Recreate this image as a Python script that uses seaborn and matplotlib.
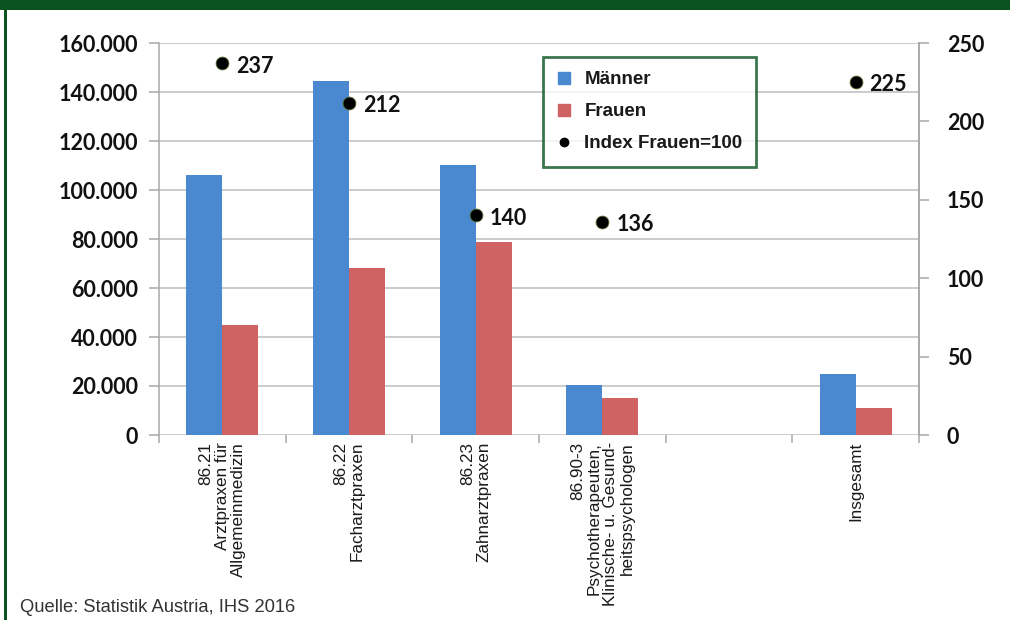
import matplotlib
matplotlib.use("Agg")
import matplotlib.pyplot as plt
from matplotlib.lines import Line2D
from matplotlib.patches import Rectangle
from matplotlib.ticker import FuncFormatter, FixedLocator
import seaborn as sns
import pandas as pd
import numpy as np

# --- data ---------------------------------------------------------------
categories = ["86.21", "86.22", "86.23", "86.90-3", " ", "Insgesamt"]
tick_labels = [
    "86.21\nArztpraxen für\nAllgemeinmedizin",
    "86.22\nFacharztpraxen",
    "86.23\nZahnarztpraxen",
    "86.90-3\nPsychotherapeuten,\nKlinische- u. Gesund-\nheitspsychologen",
    "",
    "Insgesamt",
]
maenner = [106200, 144300, 110300, 20600, np.nan, 24700]
frauen = [44800, 68100, 78700, 15100, np.nan, 11000]
index_frauen = [237, 212, 140, 136, np.nan, 225]

series_names = ["Männer", "Frauen"]
colors = {"Männer": "#4A88D0", "Frauen": "#CF6262"}

df = pd.DataFrame({
    "Kategorie": categories * 2,
    "Geschlecht": [series_names[0]] * len(categories) + [series_names[1]] * len(categories),
    "Wert": maenner + frauen,
})
df_idx = pd.DataFrame({"pos": np.arange(len(categories)), "Index": index_frauen}).dropna()

# --- figure -------------------------------------------------------------
sns.set_theme(style="white")
plt.rcParams["font.family"] = ["Liberation Sans", "DejaVu Sans"]

green = "#0B5321"
grid_c = "#BDBDBD"
spine_c = "#A8A8A8"
num_font = ["Lato", "DejaVu Sans"]
num_size = 15.5

fig = plt.figure(figsize=(10.10, 6.20), dpi=100)
ax = fig.add_axes([159 / 1010, 1 - 435 / 620, 760 / 1010, 392 / 620])

sns.barplot(data=df, x="Kategorie", y="Wert", hue="Geschlecht", order=categories,
            hue_order=series_names, palette=colors, width=0.57, gap=0,
            saturation=1, linewidth=0, ax=ax, legend=False)

ax.set_xlim(-0.5, len(categories) - 0.5)
ax.set_ylim(0, 160000)
ax.set_yticks(np.arange(0, 160001, 20000))
ax.yaxis.set_major_formatter(FuncFormatter(lambda v, p: f"{int(v):,}".replace(",", ".")))
ax.grid(axis="y", color=grid_c, linewidth=1.1)
ax.set_axisbelow(True)
ax.set_xlabel("")
ax.set_ylabel("")

for s in ["top", "bottom"]:
    ax.spines[s].set_visible(False)
for s in ["left", "right"]:
    ax.spines[s].set_color(spine_c)
    ax.spines[s].set_linewidth(1.1)

ax.tick_params(axis="y", which="major", length=7, width=1.1, color=spine_c, pad=8,
               labelsize=num_size, left=True)
for t in ax.get_yticklabels():
    t.set_family(num_font)
    t.set_fontweight("bold")
    t.set_color("#111111")

# category labels at the centres, tick marks at the slot boundaries
ax.set_xticks(np.arange(len(categories)))
ax.set_xticklabels(tick_labels, rotation=90, va="top", ha="center",
                   multialignment="right", fontsize=12.3, color="#1a1a1a",
                   linespacing=1.12)
ax.tick_params(axis="x", which="major", length=0, pad=5)
ax.xaxis.set_minor_locator(FixedLocator(np.arange(-0.5, len(categories), 1.0)))
ax.tick_params(axis="x", which="minor", length=6, width=1.1, color=spine_c,
               bottom=True, direction="out")

# index on the secondary axis
ax2 = ax.twinx()
sns.scatterplot(data=df_idx, x="pos", y="Index", color="black", s=85,
                edgecolor="#556b2f", linewidth=0.6, ax=ax2, legend=False, zorder=5)
ax2.set_ylim(0, 250)
ax2.set_yticks(np.arange(0, 251, 50))
ax2.set_ylabel("")
ax2.grid(False)
for s in ["top", "bottom", "left"]:
    ax2.spines[s].set_visible(False)
ax2.spines["right"].set_color(spine_c)
ax2.spines["right"].set_linewidth(1.1)
ax2.tick_params(axis="y", length=7, width=1.1, color=spine_c, pad=13,
                labelsize=num_size, right=True)
for t in ax2.get_yticklabels():
    t.set_family(num_font)
    t.set_fontweight("bold")
    t.set_color("#111111")

for x, v in zip(df_idx["pos"], df_idx["Index"]):
    ax2.annotate(f"{int(v)}", (x, v), xytext=(10, -2), textcoords="offset points",
                 va="center", ha="left", fontsize=num_size, fontweight="bold",
                 family=num_font, color="#111111")

# legend
handles = [
    Line2D([], [], marker="s", linestyle="", markersize=8, color=colors["Männer"]),
    Line2D([], [], marker="s", linestyle="", markersize=8, color=colors["Frauen"]),
    Line2D([], [], marker="o", linestyle="", markersize=6, color="black"),
]
leg = fig.legend(handles, ["Männer", "Frauen", "Index Frauen=100"],
                 loc="upper left", bbox_to_anchor=(543 / 1010, 1 - 57 / 620),
                 frameon=True, fancybox=False, handlelength=0.7, handletextpad=0.75,
                 labelspacing=0.8, borderpad=0.75, borderaxespad=0,
                 prop={"weight": "bold", "size": 13.5, "family": ["Liberation Sans", "DejaVu Sans"]})
leg.get_frame().set_edgecolor(green)
leg.get_frame().set_linewidth(2)
for t in leg.get_texts():
    t.set_color("#1a1a1a")

# frame: green band on top and a thin green line on the left
fig.add_artist(Rectangle((0, 1 - 10 / 620), 1, 10 / 620, transform=fig.transFigure,
                         facecolor=green, edgecolor="none"))
fig.add_artist(Rectangle((4 / 1010, 0), 3 / 1010, 1, transform=fig.transFigure,
                         facecolor=green, edgecolor="none"))

fig.text(20 / 1010, 1 - 608 / 620, "Quelle: Statistik Austria, IHS 2016",
         fontsize=13.2, color="#333333", va="center", ha="left")

fig.savefig("out.png", dpi=100)
